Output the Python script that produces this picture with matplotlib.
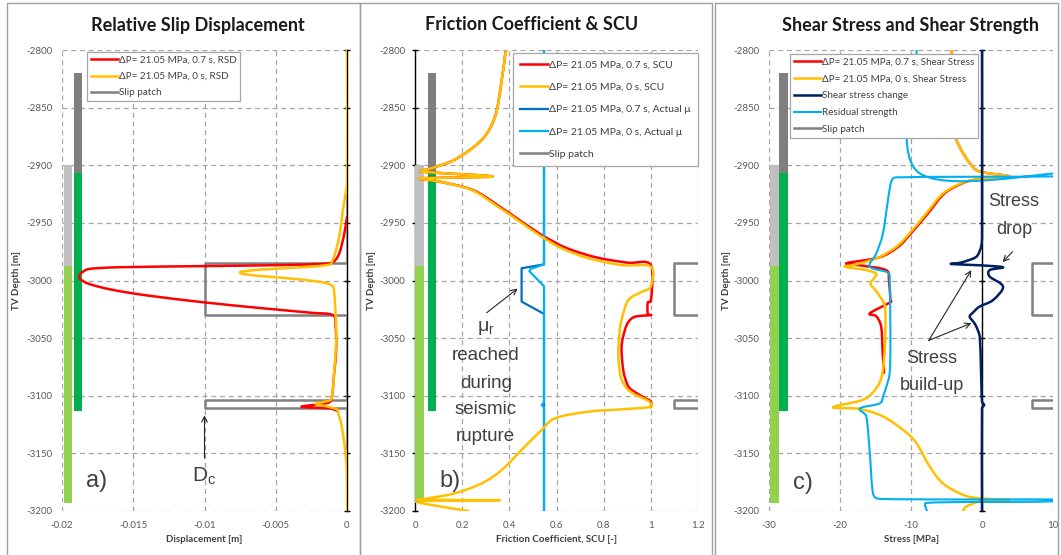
import numpy as np
import matplotlib
matplotlib.use('Agg')
import matplotlib.pyplot as plt
from matplotlib.patches import Rectangle, PathPatch
from matplotlib.path import Path
from matplotlib.transforms import blended_transform_factory

plt.rcParams['font.family'] = ['Lato', 'DejaVu Sans']
plt.rcParams['axes.unicode_minus'] = False
plt.rcParams['mathtext.fontset'] = 'custom'
plt.rcParams['mathtext.rm'] = 'Liberation Sans'

# profundidades de los ejes
depth_ticks = [-2800, -2850, -2900, -2950, -3000, -3050, -3100, -3150, -3200]
depth_labels = [str(d) for d in depth_ticks]

# barras de parche (gris arriba, verde abajo)
bar_light_depth = [-2900, -2987, -3193]
bar_dark_depth = [-2820, -2907, -3113]

# parche de deslizamiento
patch_depth = [-2855, -2985, -2985, -3030, -3030, -3104, -3104, -3111, -3111, -3200]
patch_on = [0, 0, 1, 1, 0, 0, 1, 1, 0, 0]

# ---- a) desplazamiento relativo
rsd_07_depth = [-2945, -2960, -2975, -2982, -2985, -2986.5, -2987.5, -2988.5, -2990,
                -2993, -2996, -2999, -3003, -3008, -3013, -3019, -3024, -3028, -3030,
                -3040, -3060, -3080, -3100, -3106, -3109.5, -3111, -3113]
rsd_07 = [0, -0.0002, -0.0005, -0.0008, -0.0012, -0.004, -0.010, -0.016, -0.0181,
          -0.0186, -0.0188, -0.0187, -0.0181, -0.0165, -0.0140, -0.0100, -0.0060, -0.0025, -0.0010,
          -0.0008, -0.00076, -0.0009, -0.00105, -0.0013, -0.0032, -0.0012, -0.0007]
rsd_0_depth = [-2800, -2915, -2925, -2940, -2959, -2975, -2982, -2986, -2988, -2990.5,
               -2992.5, -2994, -2996, -2998, -3001, -3004, -3010, -3030, -3050, -3080,
               -3100, -3104, -3107, -3109, -3112, -3116, -3121, -3128, -3136, -3145,
               -3155, -3164, -3180, -3200]
rsd_0 = [0, 0, -0.0001, -0.0003, -0.0005, -0.0008, -0.001, -0.0012, -0.0025, -0.006,
         -0.0075, -0.0074, -0.0062, -0.0042, -0.0020, -0.0011, -0.0009, -0.0008, -0.00075, -0.0009,
         -0.00105, -0.0012, -0.0022, -0.0015, -0.0007, -0.0006, -0.00047, -0.00035, -0.00025, -0.00015,
         -0.00007, -0.00002, 0, 0]

# ---- b) friccion y SCU
scu_0_depth = [-2800, -2830, -2858, -2878, -2895, -2902.5, -2905.5, -2909.5, -2910.5, -2911.5,
               -2914, -2921.5, -2936, -2950, -2962, -2972, -2980.7, -2986.6, -2988, -3005,
               -3010, -3017, -3034, -3048, -3063, -3076, -3086, -3094, -3099, -3104.6,
               -3109.5, -3111.8, -3113.8, -3119.5, -3129.7, -3147, -3164.4, -3176, -3184.6, -3189,
               -3190.3, -3190.6, -3191.3, -3193, -3200]
scu_0 = [0.385, 0.365, 0.339, 0.283, 0.17, 0.071, 0.028, 0.325, 0.20, 0.02,
         0.098, 0.24, 0.352, 0.452, 0.537, 0.622, 0.735, 0.876, 1.0, 1.0,
         0.96, 0.905, 0.876, 0.866, 0.862, 0.866, 0.876, 0.9, 0.933, 0.99,
         1.0, 0.876, 0.735, 0.594, 0.537, 0.452, 0.368, 0.283, 0.17, 0.056,
         0.014, 0.36, 0.014, 0.02, 0.226]
scu_07_depth = [-2800, -2830, -2858, -2878, -2895, -2902.5, -2905.5, -2909.5, -2910.5, -2911.5,
                -2914, -2921.5, -2936, -2950, -2962, -2972, -2980, -2984.5, -2986.6, -3018,
                -3019, -3029, -3030, -3031.4, -3036, -3043, -3057.5, -3077.7, -3090, -3095,
                -3102, -3105, -3110]
scu_07 = [0.385, 0.365, 0.339, 0.283, 0.17, 0.071, 0.028, 0.325, 0.20, 0.02,
          0.098, 0.245, 0.36, 0.46, 0.55, 0.645, 0.77, 0.9, 1.0, 1.0,
          0.987, 0.987, 1.0, 0.933, 0.905, 0.89, 0.876, 0.883, 0.9, 0.919,
          0.975, 1.0, 1.0]
mu_0_depth = [-2800, -2986, -2990, -2992, -3005, -3106, -3108, -3110, -3200]
mu_0 = [0.547, 0.547, 0.49, 0.485, 0.547, 0.547, 0.537, 0.547, 0.547]
mu_07_depth = [-2800, -2986, -2989.4, -3018.3, -3029, -3200]
mu_07 = [0.547, 0.547, 0.452, 0.452, 0.547, 0.547]

# ---- c) esfuerzos
res_depth = [-2800, -2906, -2906.5, -2909.5, -2910.5, -2914, -2930, -2959, -2976.4, -2988,
             -2993, -3000, -3050, -3080, -3092, -3100, -3106.6, -3111, -3118, -3150,
             -3184.7, -3189.5, -3190, -3191, -3192, -3193, -3200]
res = [-9.2, -9.0, 12, 12, -12.1, -12.77, -13.24, -13.95, -14.88, -15.82,
       -13.3, -13.0, -12.9, -13.0, -13.47, -13.9, -14.4, -17.2, -16.3, -15.8,
       -15.35, -14.4, 12, 12, 7.5, -7.84, -7.75]
ss0_depth = [-2800, -2866.5, -2884, -2898, -2905.5, -2909.8, -2912, -2915, -2924.5, -2941.7,
             -2959, -2970.7, -2980.8, -2986.6, -2988, -2991, -2994, -2998, -3003, -3010,
             -3020, -3030, -3060, -3085, -3098, -3104, -3110, -3111.5, -3118, -3129.7,
             -3141, -3161.4, -3176, -3186, -3189, -3190.3, -3191.5, -3193, -3196, -3200]
ss0 = [-4.32, -4.1, -3.15, -1.74, -0.33, 3.9, -0.3, -2.68, -5.5, -7.84,
       -10.2, -12.06, -14.88, -18.17, -19.3, -16.3, -14.9, -15.2, -15.7, -14.8,
       -13.8, -13.6, -13.7, -14.2, -15.5, -17.0, -21, -17.2, -13.95, -11.1,
       -9.24, -7.37, -5.5, -2.68, -0.33, 3.9, -0.3, -1.0, -2.2, -2.7]
ss07_depth = [-2800, -2866.5, -2884, -2898, -2905.5, -2909.8, -2912, -2915, -2924.5, -2941.7,
              -2959, -2970.7, -2980, -2985, -2987, -2991, -3000, -3017, -3018.5, -3028.5,
              -3031, -3040, -3062, -3080]
ss07 = [-4.32, -4.1, -3.15, -1.74, -0.33, 3.9, -0.3, -2.5, -5.3, -7.6,
        -10.0, -11.8, -14.5, -19.1, -17.0, -13.5, -13.1, -12.9, -12.8, -15.8,
        -14.9, -14.2, -14.0, -13.8]
dss_depth = [-2800, -2960, -2970, -2978, -2981, -2984.5, -2985.7, -2986.8, -2988.5, -2991,
             -2996.6, -3005.3, -3017, -3022.6, -3028, -3031.3, -3036, -3040, -3050, -3105,
             -3108, -3111, -3200]
dss = [0, 0, -0.1, -0.6, -1.27, -3.0, -4.32, -0.33, 2.96, 1.08,
       1.08, 2.96, 1.55, -0.33, -1.3, -1.74, -1.2, -0.8, -0.3, 0,
       0.3, 0, 0]

RED = '#ff0000'
ORANGE = '#ffc000'
BLUE = '#0070c0'
LBLUE = '#00b0f0'
NAVY = '#002060'
GRAY = '#808080'

W, H = 1061, 555
fig = plt.figure(figsize=(W / 100, H / 100), dpi=100)

# marcos de cada grafico
for x0, x1 in [(7, 360), (360, 712), (715, 1058)]:
    fig.patches.append(Rectangle((x0 / W, -0.02), (x1 - x0) / W, 1 - 3 / H + 0.02,
                                 transform=fig.transFigure, fill=False,
                                 edgecolor='#a0a0a0', lw=1))


def make_axes(left_px, right_px, xlim, xticks, xlabels, xlabel, title, title_px, ylab_x):
    ax = fig.add_axes([left_px / W, 1 - 511 / H, (right_px - left_px) / W, 461 / H])
    ax.set_xlim(xlim)
    ax.set_ylim(-3200, -2800)
    ax.set_xticks(xticks, xlabels)
    ax.set_yticks(depth_ticks, depth_labels)
    ax.tick_params(length=0, labelsize=7, colors='#595959', pad=7)
    for s in ax.spines.values():
        s.set_visible(False)
    ax.grid(True, ls=(0, (4, 3)), color='#a6a6a6', lw=0.9)
    ax.set_axisbelow(True)
    ax.set_xlabel(xlabel, fontsize=7, fontweight='bold', color='#404040')
    ax.xaxis.set_label_coords(0.5, -0.052)
    ax.set_ylabel('TV Depth [m]', fontsize=7, fontweight='bold', color='#404040')
    ax.yaxis.set_label_coords(ylab_x, 0.5)
    fig.text(title_px / W, 1 - 25 / H, title, ha='center', va='center',
             fontsize=13, fontweight='bold', color='#1a1a1a')
    # eje vertical en x = 0 con sus marcas
    ax.axvline(0, color='k', lw=1, zorder=1.5, clip_on=False)
    ax.plot([0] * len(depth_ticks), depth_ticks, ls='none', marker='_', ms=5,
            mew=1, color='k', zorder=1.6, clip_on=False)
    return ax


def smooth_line(ax, xs, ys, color, lw, zorder, label):
    # linea suavizada tipo Excel (Catmull-Rom con manijas limitadas)
    x0, x1 = ax.get_xlim()
    y0, y1 = ax.get_ylim()
    sx = ax.bbox.width / (x1 - x0)
    sy = ax.bbox.height / (y1 - y0)
    P = np.column_stack([np.asarray(xs, float) * sx, np.asarray(ys, float) * sy])
    n = len(P)

    def handle(i, seg_len):
        t = (P[min(i + 1, n - 1)] - P[max(i - 1, 0)]) / 6
        L = np.hypot(*t)
        cap = 0.45 * seg_len
        if L > cap and L > 0:
            t = t * cap / L
        return t

    verts = [P[0]]
    codes = [Path.MOVETO]
    for i in range(n - 1):
        d = np.hypot(*(P[i + 1] - P[i]))
        verts += [P[i] + handle(i, d), P[i + 1] - handle(i + 1, d), P[i + 1]]
        codes += [Path.CURVE4] * 3
    V = np.array(verts)
    V[:, 0] /= sx
    V[:, 1] /= sy
    ax.add_patch(PathPatch(Path(V, codes), fill=False, edgecolor=color, lw=lw,
                           zorder=zorder, capstyle='round', joinstyle='round'))
    ax.plot([], [], color=color, lw=lw, label=label)


def patch_bars(ax, light_x, dark_x):
    tr = blended_transform_factory(ax.transAxes, ax.transData)
    for depths, (xa, xb), top_c, bot_c in [(bar_light_depth, light_x, '#bfbfbf', '#92d050'),
                                           (bar_dark_depth, dark_x, '#7f7f7f', '#00b050')]:
        ax.fill_betweenx(depths[:2], xa, xb, transform=tr, color=top_c, lw=0, zorder=2)
        ax.fill_betweenx(depths[1:], xa, xb, transform=tr, color=bot_c, lw=0, zorder=2)


def add_legend(ax, x_px, y_px, spacing, bpad=0.4, fs=7.1):
    leg = ax.legend(loc='upper left', bbox_to_anchor=(x_px / W, 1 - y_px / H),
                    bbox_transform=fig.transFigure, fontsize=fs, fancybox=False,
                    edgecolor='#a6a6a6', framealpha=1, borderpad=bpad, handlelength=2.7,
                    handletextpad=0.1, labelspacing=spacing, borderaxespad=0)
    leg.get_frame().set_linewidth(0.9)
    leg.set_zorder(10)
    for t in leg.get_texts():
        t.set_color('#404040')


def stacked_text(ax, x, depths, words, fs):
    for d, w in zip(depths, words):
        ax.text(x, d, w, fontsize=fs, ha='center', va='center', **ann_kw)


ann_kw = dict(family='Liberation Sans', color='#404040')
arrow_kw = dict(arrowstyle='->', color='#262626', lw=0.8, shrinkA=0, shrinkB=0)

# ---------------- a)
ax1 = make_axes(62, 347, (-0.02, 0), [-0.02, -0.015, -0.01, -0.005, 0],
                ['-0.02', '-0.015', '-0.01', '-0.005', '0'], 'Displacement [m]',
                'Relative Slip Displacement', 198, -0.144)
smooth_line(ax1, rsd_07, rsd_07_depth, RED, 1.8, 3, 'ΔP= 21.05 MPa, 0.7 s, RSD')
smooth_line(ax1, rsd_0, rsd_0_depth, ORANGE, 1.8, 3.3, 'ΔP= 21.05 MPa, 0 s, RSD')
ax1.plot([-0.01 * p for p in patch_on], patch_depth, color=GRAY, lw=1.8, zorder=2.5, label='Slip patch')
patch_bars(ax1, (0.007, 0.035), (0.042, 0.070))
add_legend(ax1, 87, 52, 0.72)
ax1.text(-0.0176, -3174, 'a)', fontsize=17, ha='center', va='center', **ann_kw)
ax1.annotate('', xy=(-0.01, -3117), xytext=(-0.01, -3154), arrowprops=arrow_kw)
ax1.text(-0.01, -3170, 'D$_\\mathrm{c}$', fontsize=15, ha='center', va='center', **ann_kw)

# ---------------- b)
ax2 = make_axes(415, 698, (0, 1.2), [0, 0.2, 0.4, 0.6, 0.8, 1.0, 1.2],
                ['0', '0.2', '0.4', '0.6', '0.8', '1', '1.2'], 'Friction Coefficient, SCU [-]',
                'Friction Coefficient & SCU', 532, -0.138)
smooth_line(ax2, scu_07, scu_07_depth, RED, 1.8, 3, 'ΔP= 21.05 MPa, 0.7 s, SCU')
smooth_line(ax2, scu_0, scu_0_depth, ORANGE, 1.8, 3.5, 'ΔP= 21.05 MPa, 0 s, SCU')
ax2.plot(mu_07, mu_07_depth, color=BLUE, lw=1.6, zorder=3, label='ΔP= 21.05 MPa, 0.7 s, Actual μ')
ax2.plot(mu_0, mu_0_depth, color=LBLUE, lw=1.6, zorder=3.2, label='ΔP= 21.05 MPa, 0 s, Actual μ')
ax2.plot([1.3 - 0.2 * p for p in patch_on], patch_depth, color=GRAY, lw=1.8, zorder=2.5, label='Slip patch')
patch_bars(ax2, (0.0, 0.032), (0.046, 0.074))
add_legend(ax2, 513, 53, 1.25, bpad=0.7, fs=7.5)
ax2.text(0.148, -3174, 'b)', fontsize=17, ha='center', va='center', **ann_kw)
ax2.annotate('', xy=(0.435, -3007), xytext=(0.304, -3028), arrowprops=arrow_kw)
ax2.text(0.30, -3041, 'μ$_\\mathrm{r}$', fontsize=14, ha='center', va='center', **ann_kw)
stacked_text(ax2, 0.30, [-3065, -3089, -3112, -3135.5],
             ['reached', 'during', 'seismic', 'rupture'], 13.5)

# ---------------- c)
ax3 = make_axes(769, 1053, (-30, 10), [-30, -20, -10, 0, 10],
                ['-30', '-20', '-10', '0', '10'], 'Stress [MPa]',
                'Shear Stress and Shear Strength', 911, -0.135)
smooth_line(ax3, ss07, ss07_depth, RED, 1.8, 3, 'ΔP= 21.05 MPa, 0.7 s, Shear Stress')
smooth_line(ax3, ss0, ss0_depth, ORANGE, 1.8, 3.3, 'ΔP= 21.05 MPa, 0 s, Shear Stress')
smooth_line(ax3, dss, dss_depth, NAVY, 1.8, 3.6, 'Shear stress change')
smooth_line(ax3, res, res_depth, LBLUE, 1.5, 3.4, 'Residual strength')
ax3.plot([12 - 5 * p for p in patch_on], patch_depth, color=GRAY, lw=1.8, zorder=2.5, label='Slip patch')
patch_bars(ax3, (0.0025, 0.034), (0.034, 0.066))
add_legend(ax3, 790, 54, 0.78)
ax3.text(-25.2, -3176, 'c)', fontsize=17, ha='center', va='center', **ann_kw)
stacked_text(ax3, 4.5, [-2931.6, -2956], ['Stress', 'drop'], 13)
ax3.annotate('', xy=(2.9, -2984), xytext=(4.3, -2975), arrowprops=arrow_kw)
stacked_text(ax3, -7.1, [-3067.5, -3090.7], ['Stress', 'build-up'], 13)
ax3.annotate('', xy=(-1.5, -2991), xytext=(-7.5, -3052), arrowprops=arrow_kw)
ax3.annotate('', xy=(-1.5, -3037), xytext=(-7.5, -3052), arrowprops=arrow_kw)

fig.savefig('out.png', dpi=100)
